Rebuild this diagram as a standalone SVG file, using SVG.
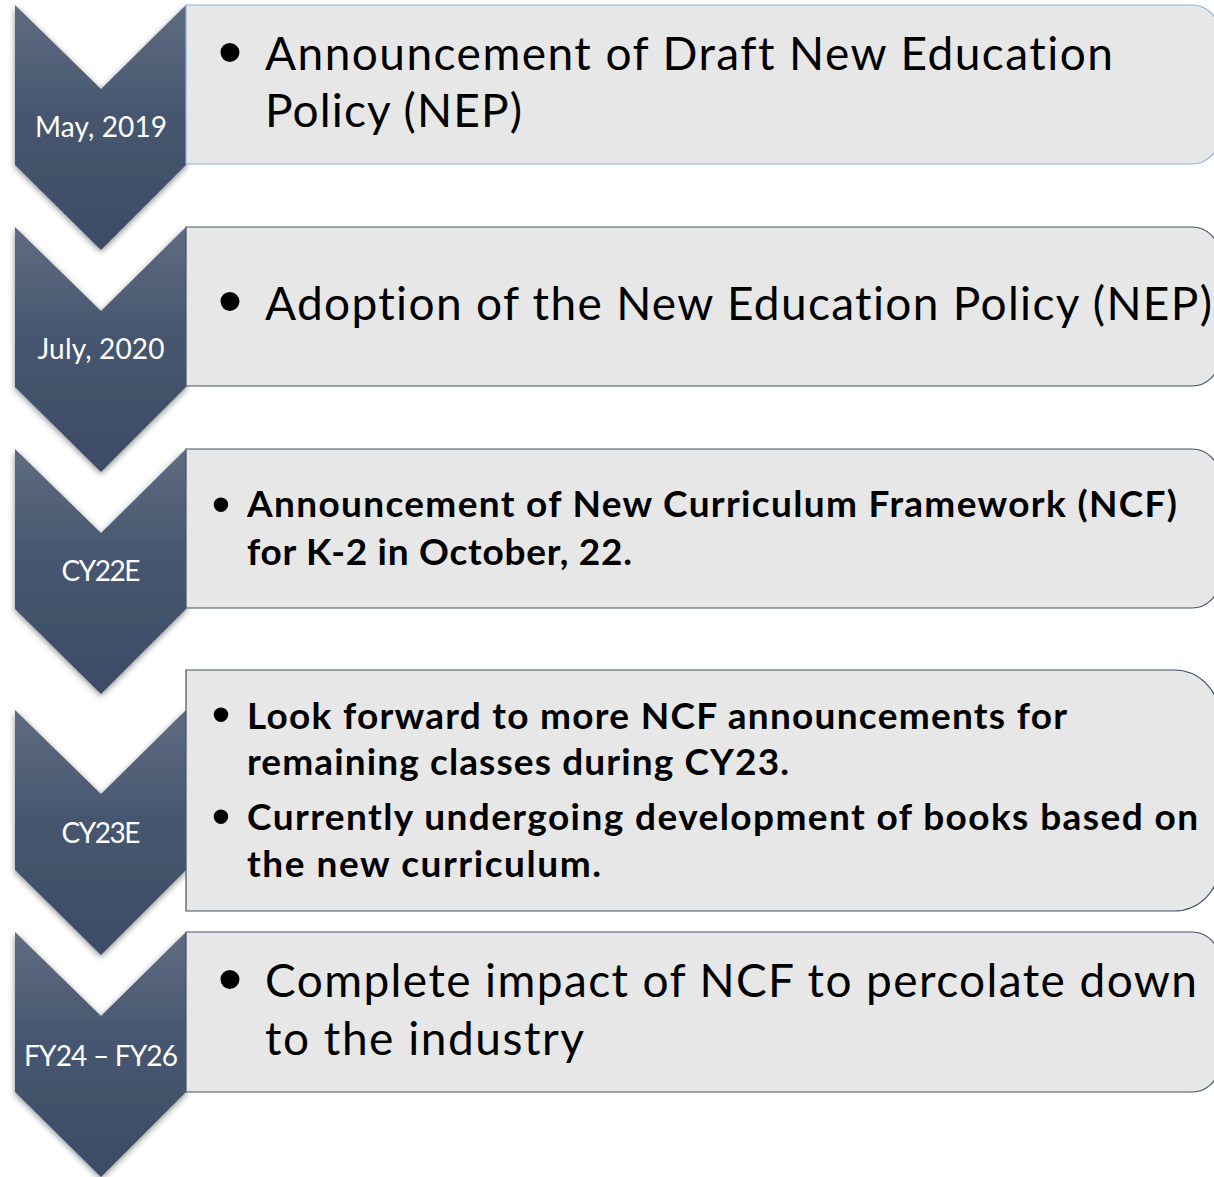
<svg xmlns="http://www.w3.org/2000/svg" width="1214" height="1177" viewBox="0 0 1214 1177">
<defs>
<linearGradient id="chev" x1="0" y1="0" x2="0" y2="1">
<stop offset="0" stop-color="#5f6c81"/>
<stop offset="0.45" stop-color="#46566f"/>
<stop offset="1" stop-color="#3c4c66"/>
</linearGradient>
<filter id="sh" x="-20%" y="-10%" width="140%" height="125%">
<feDropShadow dx="0" dy="2" stdDeviation="3" flood-color="#000" flood-opacity="0.45"/>
</filter>
</defs>
<style>
.chev{fill:url(#chev);filter:url(#sh)}
.box{fill:#e7e7e7;stroke:#44546a;stroke-width:1.2}
.box1{fill:#e7e7e7;stroke:#8db3e2;stroke-width:1.2}
text{font-variant-ligatures:none}
.lbl{font-family:Lato,"Open Sans",sans-serif;font-size:28px;fill:#fff;text-anchor:middle}
.big{font-family:Lato,"Open Sans",sans-serif;font-size:46px;fill:#000}
.bold{font-family:Lato,"Open Sans",sans-serif;font-size:37px;font-weight:bold;fill:#000}
.bul{font-family:"Liberation Sans",Arial,sans-serif;fill:#000;text-anchor:middle}
</style>
<g id="connectors"></g>
<g id="step1">
<path class="chev" d="M15,5 L101,89 L186,5 L186,165 L101,250 L15,165 Z"/>
<path class="box1" d="M186,5 H1192 A27,27 0 0 1 1219,32 V137 A27,27 0 0 1 1192,164 H186 Z"/>
<text class="lbl" x="101" y="137" textLength="132">May, 2019</text>
<text class="bul" x="230" y="76" font-size="70">•</text>
<text class="big" x="265" y="70" textLength="848">Announcement of Draft New Education</text>
<text class="big" x="265" y="127" textLength="257">Policy (NEP)</text>
</g>
<g id="step2">
<path class="chev" d="M15,227 L101,311 L186,227 L186,387 L101,472 L15,387 Z"/>
<path class="box" d="M186,227 H1192 A27,27 0 0 1 1219,254 V359 A27,27 0 0 1 1192,386 H186 Z"/>
<text class="lbl" x="101" y="359" textLength="127">July, 2020</text>
<text class="bul" x="230" y="325" font-size="70">•</text>
<text class="big" x="265" y="320" textLength="947">Adoption of the New Education Policy (NEP)</text>
</g>
<g id="step3">
<path class="chev" d="M15,449 L101,533 L186,449 L186,609 L101,694 L15,609 Z"/>
<path class="box" d="M186,449 H1192 A27,27 0 0 1 1219,476 V581 A27,27 0 0 1 1192,608 H186 Z"/>
<text class="lbl" x="101" y="581" textLength="79">CY22E</text>
<text class="bul" x="221" y="523" font-size="54">•</text>
<text class="bold" x="247" y="517" textLength="930">Announcement of New Curriculum Framework (NCF)</text>
<text class="bold" x="247" y="565" textLength="385">for K-2 in October, 22.</text>
</g>
<g id="step4">
<path class="chev" d="M15,710 L101,794 L186,710 L186,870 L101,955 L15,870 Z"/>
<path class="box" d="M186,670 H1174 A45,45 0 0 1 1219,715 V866 A45,45 0 0 1 1174,911 H186 Z"/>
<text class="lbl" x="101" y="843" textLength="79">CY23E</text>
<text class="bul" x="221" y="733" font-size="54">•</text>
<text class="bold" x="247" y="729" textLength="820">Look forward to more NCF announcements for</text>
<text class="bold" x="247" y="775" textLength="542">remaining classes during CY23.</text>
<text class="bul" x="221" y="835" font-size="54">•</text>
<text class="bold" x="247" y="830" textLength="951">Currently undergoing development of books based on</text>
<text class="bold" x="247" y="877" textLength="354">the new curriculum.</text>
</g>
<g id="step5">
<path class="chev" d="M15,932 L101,1016 L186,932 L186,1092 L101,1177 L15,1092 Z"/>
<path class="box" d="M186,932 H1192 A27,27 0 0 1 1219,959 V1065 A27,27 0 0 1 1192,1092 H186 Z"/>
<text class="lbl" x="101" y="1066" textLength="154">FY24 – FY26</text>
<text class="bul" x="230" y="1003" font-size="70">•</text>
<text class="big" x="265" y="997" textLength="932">Complete impact of NCF to percolate down</text>
<text class="big" x="265" y="1055" textLength="319">to the industry</text>
</g>
</svg>
